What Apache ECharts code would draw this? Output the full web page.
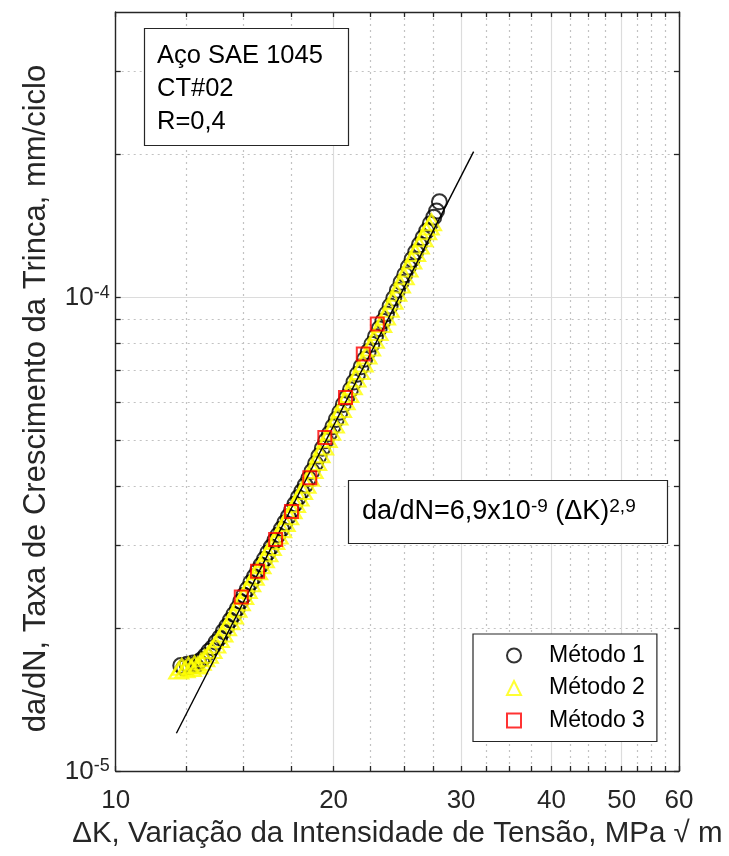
<!DOCTYPE html>
<html>
<head>
<meta charset="utf-8">
<script src="https://cdn.jsdelivr.net/npm/echarts@6/dist/echarts.min.js"></script>
<style>
  html, body { margin: 0; padding: 0; background: #fff; }
  #chart { width: 729px; height: 856px; }
</style>
</head>
<body>
<div id="chart"></div>
<script>
const FONT = '"Liberation Sans", Arial, Helvetica, sans-serif';
const AXIS_COLOR = '#262626';

// Axis ranges and tick values (log-log)
const xRange = [10, 60];
const yRange = [1e-5, 4e-4];
const xMajorTicks = [10, 20, 30, 40, 50, 60];
const xMinorTicks = [12.5, 15, 17.5, 22.5, 25, 27.5, 32.5, 35, 37.5, 42.5, 45, 47.5, 52.5, 55, 57.5];
const yMajorTicks = [1e-5, 1e-4];
const yMinorTicks = [2e-5, 3e-5, 4e-5, 5e-5, 6e-5, 7e-5, 8e-5, 9e-5, 2e-4, 3e-4];

// Método 1: ΔK (MPa√m) and da/dN (mm/ciclo)
const metodo1DK = [12.30, 12.42, 12.55, 12.66, 12.78, 12.90, 13.02, 13.15, 13.30, 13.45,
  13.60, 13.76, 13.92, 14.08, 14.24, 14.40, 14.56, 14.72, 14.88, 15.04,
  15.20, 15.37, 15.54, 15.71, 15.88, 16.05, 16.22, 16.40, 16.58, 16.76,
  16.94, 17.12, 17.31, 17.50, 17.69, 17.88, 18.07, 18.27, 18.47, 18.67,
  18.88, 19.09, 19.30, 19.51, 19.73, 19.95, 20.17, 20.40, 20.63, 20.86,
  21.10, 21.34, 21.58, 21.83, 22.08, 22.33, 22.59, 22.85, 23.12, 23.39,
  23.66, 23.94, 24.22, 24.50, 24.79, 25.08, 25.37, 25.67, 25.97, 26.27,
  26.58, 26.89, 27.20, 27.50, 27.75, 28.00];
const metodo1Rate = [1.67e-5, 1.65e-5, 1.68e-5, 1.66e-5, 1.69e-5, 1.67e-5, 1.70e-5, 1.72e-5, 1.75e-5, 1.79e-5,
  1.82e-5, 1.87e-5, 1.91e-5, 1.97e-5, 2.02e-5, 2.08e-5, 2.14e-5, 2.20e-5, 2.28e-5, 2.35e-5,
  2.42e-5, 2.50e-5, 2.57e-5, 2.65e-5, 2.72e-5, 2.80e-5, 2.89e-5, 2.97e-5, 3.06e-5, 3.15e-5,
  3.24e-5, 3.34e-5, 3.44e-5, 3.55e-5, 3.66e-5, 3.78e-5, 3.89e-5, 4.01e-5, 4.14e-5, 4.29e-5,
  4.45e-5, 4.62e-5, 4.80e-5, 4.98e-5, 5.15e-5, 5.33e-5, 5.52e-5, 5.72e-5, 5.94e-5, 6.15e-5,
  6.38e-5, 6.62e-5, 6.88e-5, 7.13e-5, 7.40e-5, 7.68e-5, 7.96e-5, 8.26e-5, 8.58e-5, 8.90e-5,
  9.22e-5, 9.58e-5, 9.95e-5, 1.034e-4, 1.075e-4, 1.116e-4, 1.158e-4, 1.202e-4, 1.246e-4, 1.290e-4,
  1.335e-4, 1.380e-4, 1.430e-4, 1.475e-4, 1.520e-4, 1.590e-4];

// Método 2
const metodo2DK = [12.22, 12.34, 12.47, 12.60, 12.72, 12.85, 12.98, 13.12, 13.27, 13.42,
  13.58, 13.74, 13.90, 14.06, 14.22, 14.38, 14.54, 14.70, 14.86, 15.02,
  15.19, 15.36, 15.53, 15.70, 15.87, 16.04, 16.22, 16.40, 16.58, 16.76,
  16.95, 17.14, 17.33, 17.52, 17.71, 17.91, 18.11, 18.31, 18.52, 18.73,
  18.94, 19.15, 19.37, 19.59, 19.81, 20.04, 20.27, 20.50, 20.74, 20.98,
  21.22, 21.47, 21.72, 21.97, 22.23, 22.49, 22.76, 23.03, 23.30, 23.58,
  23.86, 24.15, 24.44, 24.73, 25.03, 25.33, 25.64, 25.95, 26.26, 26.57,
  26.88, 27.10, 27.30];
const metodo2Rate = [1.63e-5, 1.66e-5, 1.64e-5, 1.67e-5, 1.65e-5, 1.68e-5, 1.67e-5, 1.70e-5, 1.73e-5, 1.76e-5,
  1.80e-5, 1.85e-5, 1.90e-5, 1.95e-5, 2.01e-5, 2.07e-5, 2.13e-5, 2.20e-5, 2.27e-5, 2.34e-5,
  2.41e-5, 2.49e-5, 2.57e-5, 2.64e-5, 2.72e-5, 2.80e-5, 2.88e-5, 2.97e-5, 3.06e-5, 3.14e-5,
  3.24e-5, 3.34e-5, 3.45e-5, 3.55e-5, 3.66e-5, 3.78e-5, 3.90e-5, 4.02e-5, 4.16e-5, 4.32e-5,
  4.49e-5, 4.66e-5, 4.84e-5, 5.02e-5, 5.20e-5, 5.39e-5, 5.60e-5, 5.81e-5, 6.03e-5, 6.25e-5,
  6.49e-5, 6.74e-5, 6.99e-5, 7.25e-5, 7.53e-5, 7.83e-5, 8.13e-5, 8.45e-5, 8.78e-5, 9.11e-5,
  9.46e-5, 9.83e-5, 1.022e-4, 1.064e-4, 1.107e-4, 1.150e-4, 1.195e-4, 1.240e-4, 1.286e-4, 1.332e-4,
  1.378e-4, 1.410e-4, 1.440e-4];

// Método 3
const metodo3DK = [14.91, 15.70, 16.63, 17.49, 18.54, 19.45, 20.77, 21.98, 22.98];
const metodo3Rate = [2.33e-5, 2.64e-5, 3.08e-5, 3.53e-5, 4.16e-5, 5.06e-5, 6.14e-5, 7.59e-5, 8.78e-5];

// Paris law fit: da/dN = C (ΔK)^m
const fitC = 6.9e-9;
const fitM = 2.99;
const fitDK = [12.13, 31.22];

// Annotation texts
const infoLines = ['Aço SAE 1045', 'CT#02', 'R=0,4'];
const seriesNames = ['Método 1', 'Método 2', 'Método 3'];

const zip = (xs, ys) => xs.map((x, i) => [x, ys[i]]);
const fitData = fitDK.map(k => [k, fitC * Math.pow(k, fitM)]);

const supLabel = v => '{b|10}{s|' + Math.round(Math.log10(v)) + '}';

const tickBase = { show: true, inside: true, length: 5, lineStyle: { color: AXIS_COLOR, width: 1.3 } };
const solidGrid = { show: true, lineStyle: { color: '#dcdcdc', width: 1.2, type: 'solid' } };
const dotGrid = { show: true, lineStyle: { color: '#c2c2c2', width: 1.2, type: [2, 4] } };
const axisLineStyle = { show: true, lineStyle: { color: AXIS_COLOR, width: 1.4 } };

function xLog(opts) {
  return Object.assign({ type: 'log', logBase: 10, min: xRange[0], max: xRange[1], gridIndex: 0 }, opts);
}
function yLog(opts) {
  return Object.assign({ type: 'log', logBase: 10, min: yRange[0], max: yRange[1], gridIndex: 0 }, opts);
}

const chart = echarts.init(document.getElementById('chart'), null, { renderer: 'canvas' });

chart.setOption({
  animation: false,
  backgroundColor: '#fff',
  grid: { left: 115.7, right: 50, top: 12, bottom: 85, containLabel: false },
  xAxis: [
    xLog({
      position: 'bottom',
      axisLine: axisLineStyle,
      axisTick: Object.assign({}, tickBase, { customValues: xMajorTicks }),
      axisLabel: { show: true, customValues: xMajorTicks, margin: 17, fontSize: 26, fontFamily: FONT, color: AXIS_COLOR },
      splitLine: solidGrid,
      name: 'ΔK, Variação da Intensidade de Tensão, MPa √ m',
      nameLocation: 'middle',
      nameGap: 48,
      nameTextStyle: { fontSize: 29.5, fontFamily: FONT, color: AXIS_COLOR }
    }),
    xLog({
      position: 'bottom',
      axisLine: { show: false },
      axisTick: Object.assign({}, tickBase, { customValues: xMinorTicks }),
      axisLabel: { show: false },
      splitLine: dotGrid
    }),
    xLog({
      position: 'top',
      axisLine: axisLineStyle,
      axisTick: Object.assign({}, tickBase, { customValues: xMajorTicks.concat(xMinorTicks) }),
      axisLabel: { show: false },
      splitLine: { show: false }
    })
  ],
  yAxis: [
    yLog({
      position: 'left',
      axisLine: axisLineStyle,
      axisTick: Object.assign({}, tickBase, { customValues: yMajorTicks }),
      axisLabel: {
        show: true, customValues: yMajorTicks, margin: 6,
        formatter: supLabel,
        rich: {
          b: { fontSize: 26, fontFamily: FONT, color: AXIS_COLOR, lineHeight: 27, padding: [10, 0, 0, 0], verticalAlign: 'bottom' },
          s: { fontSize: 18, fontFamily: FONT, color: AXIS_COLOR, lineHeight: 19, verticalAlign: 'top' }
        }
      },
      splitLine: solidGrid,
      name: 'da/dN, Taxa de Crescimento da Trinca, mm/ciclo',
      nameLocation: 'middle',
      nameGap: 64,
      nameTextStyle: { fontSize: 31, fontFamily: FONT, color: AXIS_COLOR, padding: [0, 14, 0, 0] }
    }),
    yLog({
      position: 'left',
      axisLine: { show: false },
      axisTick: Object.assign({}, tickBase, { customValues: yMinorTicks }),
      axisLabel: { show: false },
      splitLine: dotGrid
    }),
    yLog({
      position: 'right',
      axisLine: axisLineStyle,
      axisTick: Object.assign({}, tickBase, { customValues: yMajorTicks.concat(yMinorTicks) }),
      axisLabel: { show: false },
      splitLine: { show: false }
    })
  ],
  title: [
    {
      text: infoLines.join('\n'),
      left: 144, top: 28,
      padding: [11, 26, 8, 13],
      borderColor: AXIS_COLOR, borderWidth: 1.2,
      backgroundColor: '#fff',
      textStyle: { fontSize: 25.5, fontWeight: 'normal', lineHeight: 33, fontFamily: FONT, color: '#000' }
    },
    {
      text: '{t|da/dN=6,9x10}{s|-9}{t| (ΔK)}{s|2,9}',
      left: 348, top: 489,
      padding: [8, 32, 19, 14],
      borderColor: AXIS_COLOR, borderWidth: 1.2,
      backgroundColor: '#fff',
      textStyle: {
        fontWeight: 'normal',
        rich: {
          t: { fontSize: 27, fontFamily: FONT, color: '#000', lineHeight: 28, padding: [10, 0, 0, 0], verticalAlign: 'bottom' },
          s: { fontSize: 19, fontFamily: FONT, color: '#000', lineHeight: 20, verticalAlign: 'top' }
        }
      }
    }
  ],
  legend: {
    data: seriesNames,
    orient: 'vertical',
    left: 473, top: 634,
    itemWidth: 14, itemHeight: 14,
    itemGap: 9.5,
    symbolKeepAspect: true,
    padding: [10, 12, 9.5, 33],
    borderColor: AXIS_COLOR, borderWidth: 1.2,
    backgroundColor: '#fff',
    textStyle: { fontSize: 23, fontFamily: FONT, color: '#000', padding: [0, 0, 0, 23] }
  },
  series: [
    {
      name: seriesNames[0], type: 'scatter', xAxisIndex: 0, yAxisIndex: 0,
      symbol: 'circle', symbolSize: 15,
      itemStyle: { color: 'transparent', borderColor: '#000', borderWidth: 2 },
      data: zip(metodo1DK, metodo1Rate), z: 3
    },
    {
      name: seriesNames[1], type: 'scatter', xAxisIndex: 0, yAxisIndex: 0,
      symbol: 'triangle', symbolSize: [19, 16],
      itemStyle: { color: 'transparent', borderColor: '#ffff00', borderWidth: 2.2 },
      data: zip(metodo2DK, metodo2Rate), z: 4
    },
    {
      name: 'fit', type: 'line', xAxisIndex: 0, yAxisIndex: 0,
      symbol: 'none', silent: true,
      lineStyle: { color: '#000', width: 1.4 },
      data: fitData, z: 5
    },
    {
      name: seriesNames[2], type: 'scatter', xAxisIndex: 0, yAxisIndex: 0,
      symbol: 'rect', symbolSize: 13,
      itemStyle: { color: 'transparent', borderColor: '#ff0000', borderWidth: 2 },
      data: zip(metodo3DK, metodo3Rate), z: 6
    }
  ]
});
</script>
</body>
</html>
